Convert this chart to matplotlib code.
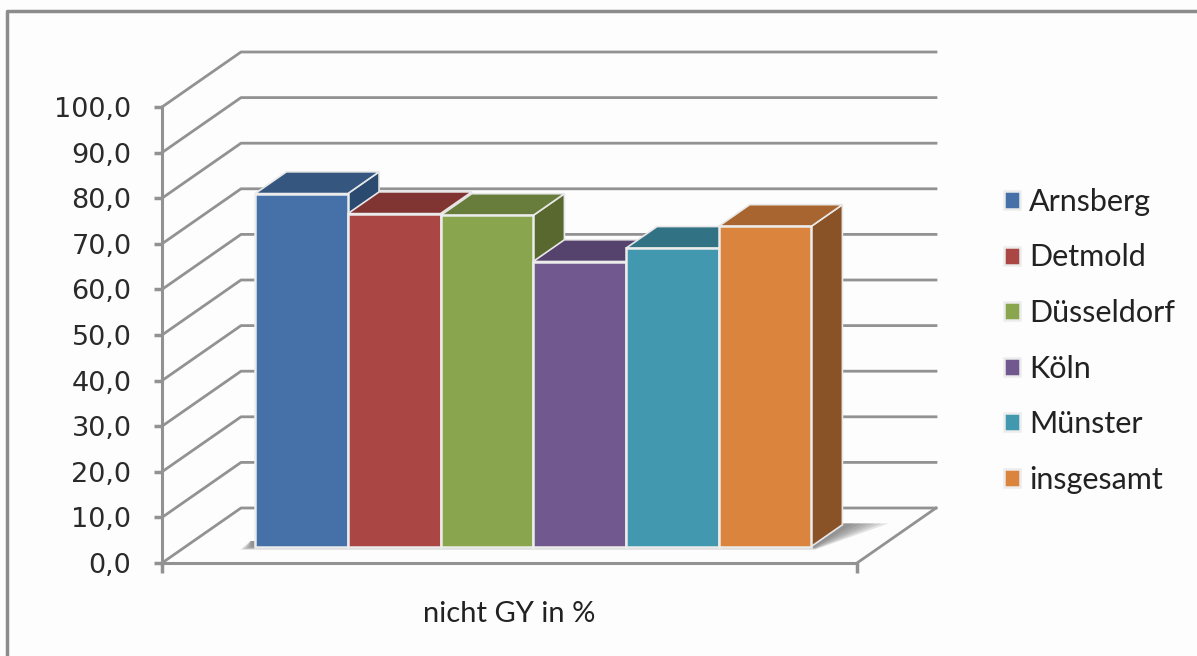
import matplotlib
matplotlib.use("Agg")
import matplotlib.pyplot as plt
from matplotlib.lines import Line2D
from matplotlib.patches import Polygon

# Data
regions = ["Arnsberg", "Detmold", "Düsseldorf", "Köln", "Münster", "insgesamt"]
values = [77.4, 73.0, 72.6, 62.5, 65.4, 70.2]
colors = ["#4571A8", "#AA4643", "#89A54E", "#71588F", "#4198AF", "#DB843D"]
top_colors = ["#34567F", "#813533", "#687D3B", "#56436D", "#317385", "#A8652F"]
side_colors = ["#2B4A70", "#6F2E2C", "#58682F", "#49395C", "#2A6272", "#8A5227"]
y_ticks = [0, 10, 20, 30, 40, 50, 60, 70, 80, 90, 100]
x_label = "nicht GY in %"

# Depth of the box in data units
DX = 79 / 92.67
DY = 55 / 4.56
BAR_FRONT = 0.30
BAR_BACK = 0.695
GREY = "#929292"


def proj(x, v, d):
    return x + d * DX, v + d * DY


fig = plt.figure(figsize=(11.97, 6.56), dpi=100, facecolor="#FDFDFD")
ax = fig.add_axes([162 / 1197, 1 - 563 / 656, 695 / 1197, 456 / 656])
ax.set_facecolor("none")
ax.set_xlim(-1.25, 6.25)
ax.set_ylim(0, 100)

# Walls: diagonal on the left side, then straight along the back
x0, x1 = ax.get_xlim()
for v in y_ticks:
    xa, ya = proj(x0, v, 0)
    xb, yb = proj(x0, v, 1)
    xc, yc = proj(x1, v, 1)
    ax.plot([xa, xb, xc], [ya, yb, yc], color=GREY, lw=2, clip_on=False, zorder=1)
xa, ya = proj(x1, 0, 0)
xb, yb = proj(x1, 0, 1)
ax.plot([xa, xb], [ya, yb], color=GREY, lw=2, clip_on=False, zorder=1)

# Soft shadow on the floor
bx0, by0 = proj(-0.5, 0, BAR_FRONT)
bx1, by1 = proj(5.5, 0, BAR_FRONT)
bx2, by2 = proj(5.5, 0, BAR_BACK)
for grow in [1.0, 0.85, 0.7, 0.55, 0.4, 0.25]:
    ax.add_patch(Polygon(
        [(bx0 - 0.16 * grow, by0 - 0.7 * grow), (bx1 + 0.04, by1 - 0.7 * grow),
         (bx2 + 0.5 * grow, by2 + 0.3), (bx2, by2 + 0.3), (bx0, by0 + 1.2),
         (bx0 - 0.05, by0 + 1.2)],
        closed=True, fc="#606060", ec="none", alpha=0.16, clip_on=False, zorder=2))

# Bars, left to right so each one covers the side of the previous
shift_x, shift_y = proj(0, 0, BAR_FRONT)
depth_x = (BAR_BACK - BAR_FRONT) * DX
depth_y = (BAR_BACK - BAR_FRONT) * DY
handles = []
for i, (name, val) in enumerate(zip(regions, values)):
    z = 3 + i
    left = i - 0.5 + shift_x
    right = i + 0.5 + shift_x
    top = val + shift_y
    side = Polygon([(right, shift_y), (right + depth_x, shift_y + depth_y),
                    (right + depth_x, top + depth_y), (right, top)],
                   closed=True, fc=side_colors[i], ec="#E8E8E8", lw=1.2,
                   clip_on=False, zorder=z)
    roof = Polygon([(left, top), (left + depth_x, top + depth_y),
                    (right + depth_x, top + depth_y), (right, top)],
                   closed=True, fc=top_colors[i], ec="#E8E8E8", lw=1.2,
                   clip_on=False, zorder=z)
    ax.add_patch(side)
    ax.add_patch(roof)
    b = ax.bar(i + shift_x, val, bottom=shift_y, width=1, color=colors[i],
               edgecolor="#ECECEC", lw=1.8, clip_on=False, zorder=z + 0.5)
    handles.append(b)

# Axes
for s in ["top", "right"]:
    ax.spines[s].set_visible(False)
for s in ["left", "bottom"]:
    ax.spines[s].set_color(GREY)
    ax.spines[s].set_linewidth(2.2)
ax.set_yticks(y_ticks)
ax.set_yticklabels([f"{v:.1f}".replace(".", ",") for v in y_ticks],
                   fontsize=19.5, color="#2A2A2A", family="DejaVu Sans")
ax.set_xticks([x0, x1])
ax.set_xticklabels(["", ""])
ax.tick_params(axis="y", length=6, width=2.5, color=GREY, pad=16)
ax.tick_params(axis="x", length=7, width=2.5, color=GREY)
ax.set_xlabel(x_label, fontsize=21, family="Lato", color="#222222", labelpad=17)

ax.legend(handles, regions, loc="upper left", bbox_to_anchor=(1004 / 1197, 1 - 188 / 656),
          bbox_transform=fig.transFigure, frameon=False,
          prop={"family": "Lato", "size": 22}, labelcolor="#222222",
          handlelength=0.53, handleheight=0.53, handletextpad=0.3,
          labelspacing=0.9, borderpad=0, borderaxespad=0)

# Outer frame, only top and left are in the crop
fig.add_artist(Line2D([7 / 1197, 7 / 1197, 1], [0, 1 - 11 / 656, 1 - 11 / 656],
                      color="#8C8C8C", lw=2.5))

fig.savefig("out.png", dpi=100, facecolor=fig.get_facecolor())
